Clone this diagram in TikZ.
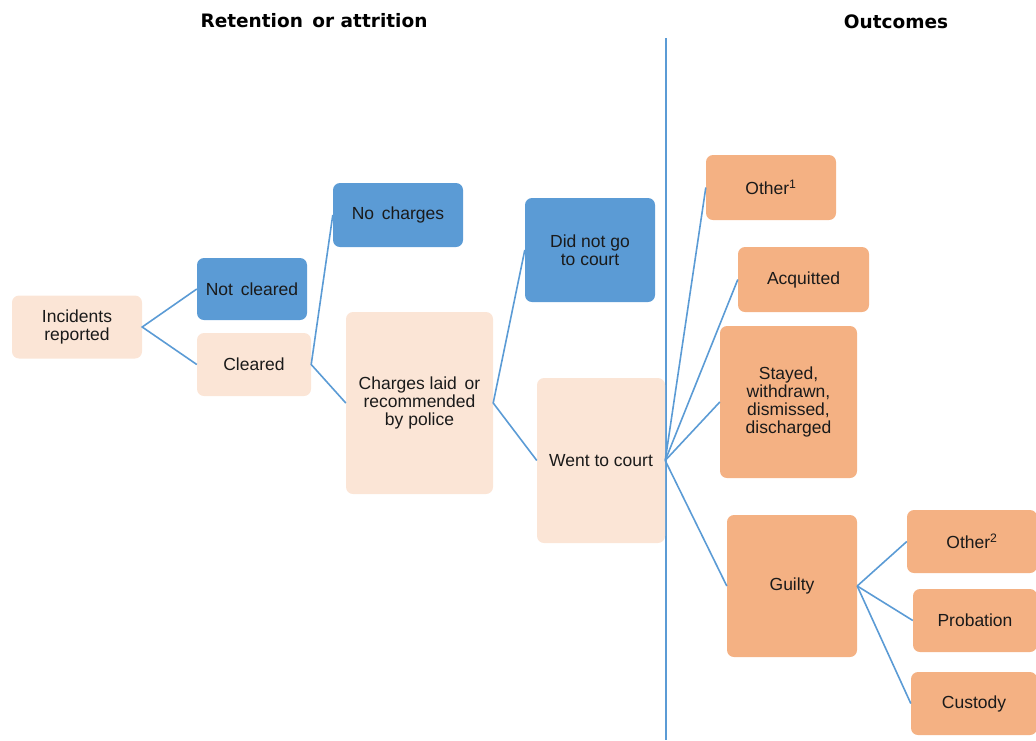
\documentclass[tikz,border=0pt]{standalone}
\usepackage{fontspec}
\setmainfont{Liberation Sans}
\newfontfamily\titlefont{DejaVu Sans}
\definecolor{bluebox}{HTML}{5B9BD5}
\definecolor{peach}{HTML}{FBE5D6}
\definecolor{orangebox}{HTML}{F4B183}
\definecolor{linecol}{HTML}{5B9BD5}
\definecolor{txt}{HTML}{1A1A1A}
\tikzset{
  box/.style={rounded corners=7pt, inner sep=2pt, align=center, text=txt,
    font=\fontsize{17.5}{17.7}\selectfont},
  bluenode/.style={box, fill=bluebox},
  peachnode/.style={box, fill=peach},
  orangenode/.style={box, fill=orangebox},
  conn/.style={draw=linecol, line width=1.6pt},
  heading/.style={font=\titlefont\bfseries\fontsize{18.5}{20}\selectfont, text=black}
}
\begin{document}
\begin{tikzpicture}[x=1pt,y=-1pt]
\useasboundingbox (0,0) rectangle (1036,740);
% headings
\node[heading] (h1) at (314,21) {Retention\, or attrition};
\node[heading] (h2) at (896,22) {Outcomes};
% divider
\coordinate (vtop) at (666,38);
\coordinate (vbot) at (666,740);
\draw[draw=linecol, line width=1.3pt] (vtop) -- (vbot);
% boxes
\node[peachnode, minimum width=130pt, minimum height=63pt] (inc) at (77,327) {Incidents\\reported};
\node[bluenode, minimum width=110pt, minimum height=62pt] (nc) at (252,289) {Not\, cleared};
\node[peachnode, minimum width=114pt, minimum height=63pt] (cl) at (254,364.5) {Cleared};
\node[bluenode, minimum width=130pt, minimum height=64pt] (noch) at (398,215) {No\, charges};
\node[peachnode, minimum width=147pt, minimum height=182pt] (ch) at (419.5,403) {Charges laid\, or\\recommended\\by police};
\node[bluenode, minimum width=130pt, minimum height=104pt] (dng) at (590,250) {Did not go\\to court};
\node[peachnode, minimum width=128pt, minimum height=165pt] (wtc) at (601,460.5) {Went to court};
\node[orangenode, minimum width=130pt, minimum height=65pt] (o1) at (771,187.5) {Other\textsuperscript{1}};
\node[orangenode, minimum width=131pt, minimum height=65pt] (acq) at (803.5,279.5) {Acquitted};
\node[orangenode, minimum width=137pt, minimum height=152pt] (sty) at (788.5,402) {Stayed,\\withdrawn,\\dismissed,\\discharged};
\node[orangenode, minimum width=130pt, minimum height=142pt] (gui) at (792,586) {Guilty};
\node[orangenode, minimum width=130pt, minimum height=63pt] (o2) at (972,541.5) {Other\textsuperscript{2}};
\node[orangenode, minimum width=124pt, minimum height=63pt] (prob) at (975,620.5) {Probation};
\node[orangenode, minimum width=126pt, minimum height=63pt] (cus) at (974,703.5) {Custody};
% connectors
\draw[conn] (nc.west) -- (inc.east) -- (cl.west);
\draw[conn] (noch.west) -- (cl.east) -- (ch.west);
\draw[conn] (dng.west) -- (ch.east) -- (wtc.west);
\draw[conn] (wtc.east) -- (o1.west);
\draw[conn] (wtc.east) -- (acq.west);
\draw[conn] (wtc.east) -- (sty.west);
\draw[conn] (wtc.east) -- (gui.west);
\draw[conn] (gui.east) -- (o2.west);
\draw[conn] (gui.east) -- (prob.west);
\draw[conn] (gui.east) -- (cus.west);
\end{tikzpicture}
\end{document}
